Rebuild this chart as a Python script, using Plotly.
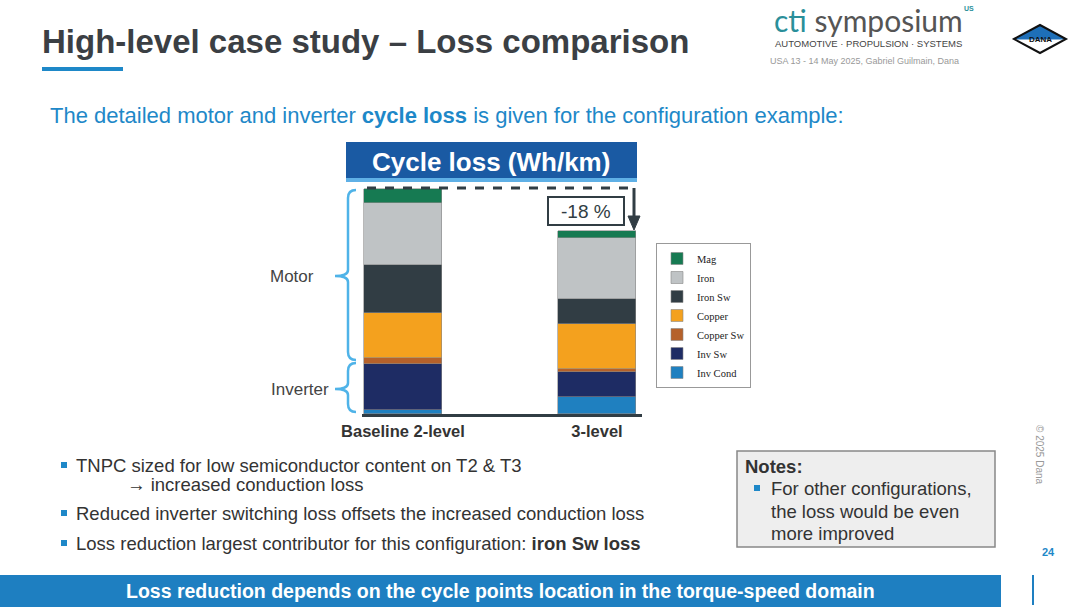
import plotly.graph_objects as go

categories = ["Baseline 2-level", "3-level"]
components = ["Inv Cond", "Inv Sw", "Copper Sw", "Copper", "Iron Sw", "Iron", "Mag"]
colors = ["#1f80c0", "#1e2c64", "#b5612a", "#f4a11e", "#313d44", "#bfc3c5", "#167a52"]
baseline = [4, 46, 6, 45, 48, 62, 14]
three_level = [17, 25, 3, 45, 25, 61, 7]

W, H = 1080, 608
def px(x): return x / W
def py(y): return 1 - y / H

fig = go.Figure()
for i, name in enumerate(components):
    fig.add_trace(go.Bar(x=[0, 1], y=[baseline[i], three_level[i]], name=name,
                         marker=dict(color=colors[i], line=dict(color="#888888", width=0.6)),
                         width=0.40))

shapes, ann = [], []
def text(x, y, s, size=14, color="#333", bold=False, xanchor="left", font="Arial", angle=0, yanchor="middle"):
    ann.append(dict(x=px(x), y=py(y), xref="paper", yref="paper", text=(f"<b>{s}</b>" if bold else s),
                    showarrow=False, xanchor=xanchor, yanchor=yanchor, textangle=angle,
                    font=dict(size=size, color=color, family=font)))
def rect(x0, y0, x1, y1, fill, line=None, lw=0):
    shapes.append(dict(type="rect", xref="paper", yref="paper", x0=px(x0), x1=px(x1), y0=py(y1), y1=py(y0),
                       fillcolor=fill, line=dict(color=line or fill, width=lw), layer="below"))
def path(d, color, width=2, fill=None, dash="solid"):
    shapes.append(dict(type="path", xref="paper", yref="paper", path=d,
                       line=dict(color=color, width=width, dash=dash),
                       fillcolor=fill if fill else "rgba(0,0,0,0)"))
def P(x, y): return f"{px(x)},{py(y)}"

# title
text(40, 42, "High-level case study – Loss comparison", 33, "#3b3f44", True)
rect(42, 67, 123, 71, "#1e88c8")
text(48, 116, "The detailed motor and inverter <b>cycle loss</b> is given for the configuration example:", 22, "#1e88c8")
# header
rect(346, 142, 637, 182, "#1a5aa3")
rect(346, 178, 637, 182, "#5fb0e6")
text(491, 162, "Cycle loss (Wh/km)", 26, "white", True, "center")
# dashed line & arrow
path(f"M{P(367,188)} L{P(636,188)}", "#313d44", 3, dash="dash")
path(f"M{P(634,188)} L{P(634,218)}", "#313d44", 3)
path(f"M{P(628,216)} L{P(640,216)} L{P(634,230)} Z", "#313d44", 1, fill="#313d44")
shapes.append(dict(type="rect", xref="paper", yref="paper", x0=px(548), x1=px(624), y0=py(225), y1=py(197),
                   line=dict(color="#313d44", width=2), fillcolor="white"))
text(586, 211, "-18 %", 19, "#313d44", False, "center")
# braces
def brace(y0, y1, ym, x=348, tip=335):
    d = (f"M{P(x+8,y0)} Q{P(x,y0)} {P(x,y0+8)} L{P(x,ym-6)} Q{P(x,ym)} {P(tip,ym)} "
         f"Q{P(x,ym)} {P(x,ym+6)} L{P(x,y1-8)} Q{P(x,y1)} {P(x+8,y1)}")
    path(d, "#4fb3e8", 2.5)
brace(190, 360, 276)
brace(363, 412, 389)
text(316, 276, "Motor", 17, "#444", False, "right")
text(331, 389, "Inverter", 17, "#444", False, "right")
# bullets
def bullet(x, y):
    rect(x - 3, y - 3, x + 3, y + 3, "#1e88c8")
bullet(64, 465); text(74, 465, "TNPC sized for low semiconductor content on T2 & T3", 18.5, "#333")
text(125, 484, "→ increased conduction loss", 18.5, "#333")
bullet(64, 513); text(74, 513, "Reduced inverter switching loss offsets the increased conduction loss", 18.5, "#333")
bullet(64, 543); text(74, 543, "Loss reduction largest contributor for this configuration: <b>iron Sw loss</b>", 18.5, "#333")
# notes
rect(737, 451, 995, 547, "#eeeeee", "#888888", 1.5)
text(743, 466, "Notes:", 18.5, "#333", True)
bullet(757, 488)
text(769, 488, "For other configurations,", 18.5, "#333")
text(769, 511, "the loss would be even", 18.5, "#333")
text(769, 533, "more improved", 18.5, "#333")
# footer
rect(0, 575, 1001, 607, "#1e7fc1")
text(500, 591, "Loss reduction depends on the cycle points location in the torque-speed domain", 19.5, "white", True, "center")
rect(1032, 575, 1034, 605, "#1e7fc1")
text(1040, 552, "<b>24</b>", 11, "#1e88c8")
text(1040, 455, "© 2025 Dana", 10, "#999", False, "center", angle=90)
# logo
text(772, 20, "<span style='color:#2a8f9a'>cti</span> symposium", 30, "#555", False, font="Lato")
text(962, 9, "<b>US</b>", 7, "#2a8f9a")
text(773, 43, "AUTOMOTIVE · PROPULSION · SYSTEMS", 9.5, "#444")
text(768, 61, "USA 13 - 14 May 2025, Gabriel Guilmain, Dana", 9, "#999")
path(f"M{P(1014,39)} L{P(1040,25)} L{P(1066,39)} Z", "#1e6fb8", 1, fill="#1e6fb8")
path(f"M{P(1014,39)} L{P(1040,25)} L{P(1066,39)} L{P(1040,53)} Z", "#111", 2)
rect(1020, 35, 1060, 43, "white")
text(1040, 39, "DANA", 8, "#111", True, "center")

fig.update_layout(
    width=W, height=H, margin=dict(l=0, r=0, t=0, b=0, autoexpand=False), plot_bgcolor="white", paper_bgcolor="white",
    barmode="stack", shapes=shapes, annotations=ann, bargap=0,
    xaxis=dict(domain=[px(362), px(642)], range=[-0.211, 1.232], tickvals=[0, 1],
               ticktext=["<b>Baseline 2-level</b>", "<b>3-level</b>"], showgrid=False,
               showline=True, linecolor="#313d44", linewidth=3, ticks="",
               tickfont=dict(size=16.5, color="#333", family="Arial")),
    yaxis=dict(domain=[py(414), py(188)], range=[0, 226], visible=False),
    legend=dict(x=px(656), y=py(243), xanchor="left", yanchor="top", traceorder="reversed",
                bordercolor="#999", borderwidth=1, font=dict(size=10.5, family="Liberation Serif", color="#222"),
                tracegroupgap=0, itemwidth=30),
)
fig.write_html("out.html", config={"displayModeBar": False})
with open("out.html", encoding="utf-8") as f:
    html = f.read()
html = html.replace("<head>", "<head><style>html,body{margin:0;padding:0;overflow:hidden;}</style>", 1)
with open("out.html", "w", encoding="utf-8") as f:
    f.write(html)
